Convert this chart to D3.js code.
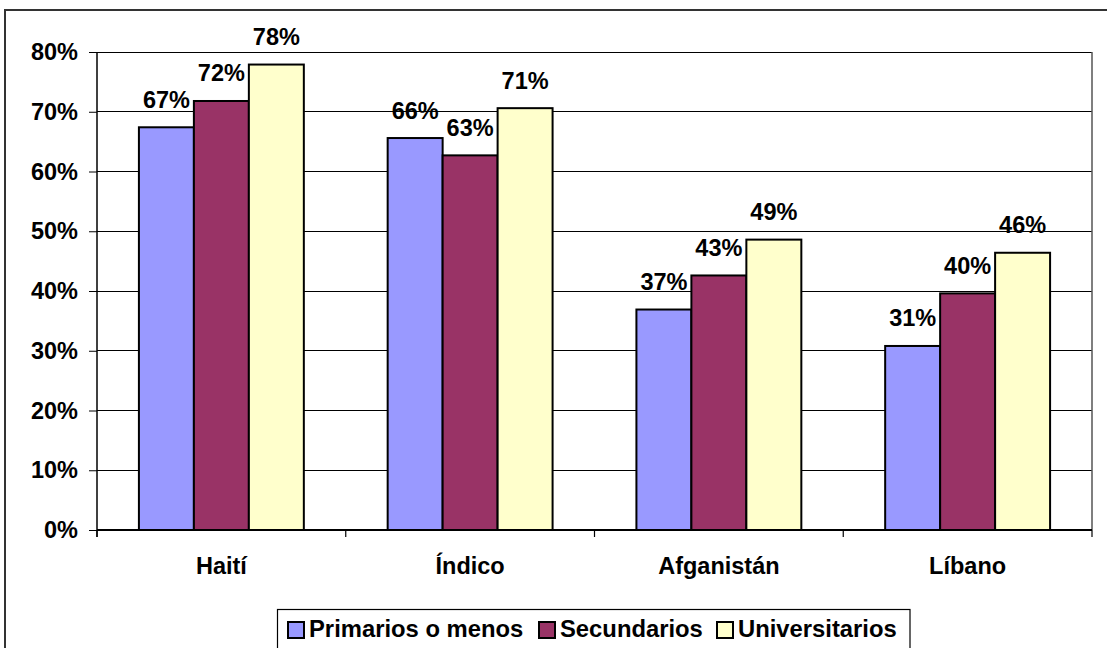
<!DOCTYPE html>
<html><head><meta charset="utf-8">
<script src="https://cdn.jsdelivr.net/npm/d3@7"></script>
<style>
html,body{margin:0;padding:0;background:#fff;}
svg{display:block;font-family:"Liberation Sans",Arial,sans-serif;font-weight:bold;}
</style></head>
<body>
<svg id="c" width="1107" height="648"></svg>
<script>
const categories = ["Haití", "Índico", "Afganistán", "Líbano"];
const seriesNames = ["Primarios o menos", "Secundarios", "Universitarios"];
const primarios = [0.674, 0.656, 0.369, 0.308];
const secundarios = [0.718, 0.627, 0.426, 0.396];
const universitarios = [0.779, 0.706, 0.486, 0.464];
const colors = ["#9999FF", "#993366", "#FFFFCC"];
const yTicks = [0, 0.1, 0.2, 0.3, 0.4, 0.5, 0.6, 0.7, 0.8];

const seriesValues = [primarios, secundarios, universitarios];
const rows = categories.map((c, i) => ({cat: c, vals: seriesNames.map((s, j) => ({s, j, v: seriesValues[j][i]}))}));

const FONT = '"Liberation Sans",Arial,sans-serif';
const svg = d3.select("#c");
const L = 97, R = 1092, T = 52, B = 530;

// outer chart border
svg.append("rect").attr("x", 5).attr("y", 10).attr("width", 1120).attr("height", 660)
  .attr("fill", "#fff").attr("stroke", "#333").attr("stroke-width", 2);

const x0 = d3.scaleBand().domain(categories).range([L, R]).padding(0);
const bw = x0.bandwidth();
const gw = bw * 0.663;
const x1 = d3.scaleBand().domain(seriesNames).range([(bw - gw) / 2, (bw + gw) / 2]).padding(0);
const y = d3.scaleLinear().domain([0, 0.8]).range([B, T]);

// gridlines
svg.append("g").selectAll("line").data(yTicks.slice(1)).join("line")
  .attr("x1", L).attr("x2", R).attr("y1", d => y(d)).attr("y2", d => y(d))
  .attr("stroke", "#000").attr("stroke-width", 1).attr("shape-rendering", "crispEdges");

// right border of plot area
svg.append("line").attr("x1", R).attr("x2", R).attr("y1", T).attr("y2", B)
  .attr("stroke", "#555").attr("stroke-width", 1.5);

// y axis
const yAxis = d3.axisLeft(y).tickValues(yTicks).tickFormat(d3.format(".0%")).tickSize(8).tickPadding(11);
const gy = svg.append("g").attr("transform", `translate(${L},0)`).call(yAxis)
  .attr("font-family", FONT).attr("font-size", 23.5);
gy.select(".domain").remove();
gy.selectAll(".tick line").attr("stroke", "#000");
gy.selectAll(".tick text").attr("font-weight", "bold").attr("fill", "#000");

// bars
const groups = svg.append("g").selectAll("g").data(rows).join("g")
  .attr("transform", d => `translate(${x0(d.cat)},0)`);
groups.selectAll("rect").data(d => d.vals).join("rect")
  .attr("x", d => x1(d.s)).attr("width", x1.bandwidth())
  .attr("y", d => y(d.v)).attr("height", d => y(0) - y(d.v))
  .attr("fill", d => colors[d.j]).attr("stroke", "#000").attr("stroke-width", 2);

// data labels
groups.selectAll("text").data(d => d.vals).join("text")
  .attr("x", d => x1(d.s) + x1.bandwidth() / 2)
  .attr("y", d => y(d.v) - 19.5)
  .attr("text-anchor", "middle").attr("font-size", 23.5).attr("fill", "#000")
  .text(d => Math.round(d.v * 100) + "%");

// axes lines
svg.append("line").attr("x1", L).attr("x2", L).attr("y1", T).attr("y2", B + 7)
  .attr("stroke", "#000").attr("stroke-width", 1.5);
svg.append("line").attr("x1", L).attr("x2", R).attr("y1", B).attr("y2", B)
  .attr("stroke", "#000").attr("stroke-width", 2);

// category ticks
const bounds = categories.map(c => x0(c)).concat([R]);
svg.append("g").selectAll("line").data(bounds).join("line")
  .attr("x1", d => d).attr("x2", d => d).attr("y1", B).attr("y2", B + 7)
  .attr("stroke", "#000").attr("stroke-width", 1.2);

// category labels
svg.append("g").selectAll("text").data(categories).join("text")
  .attr("x", d => x0(d) + bw / 2).attr("y", 574)
  .attr("text-anchor", "middle").attr("font-size", 23.5).attr("fill", "#000")
  .text(d => d);

// legend
const lg = svg.append("g");
lg.append("rect").attr("x", 277.5).attr("y", 609.5).attr("width", 632.5).attr("height", 45)
  .attr("fill", "#fff").attr("stroke", "#000").attr("stroke-width", 1.2);
const swatchX = [288, 539, 717];
seriesNames.forEach((s, j) => {
  lg.append("rect").attr("x", swatchX[j]).attr("y", 622).attr("width", 16).attr("height", 16)
    .attr("fill", colors[j]).attr("stroke", "#000").attr("stroke-width", 2);
  lg.append("text").attr("x", swatchX[j] + 21).attr("y", 637).attr("font-size", 23.8).attr("fill", "#000").text(s);
});
</script>
</body></html>
